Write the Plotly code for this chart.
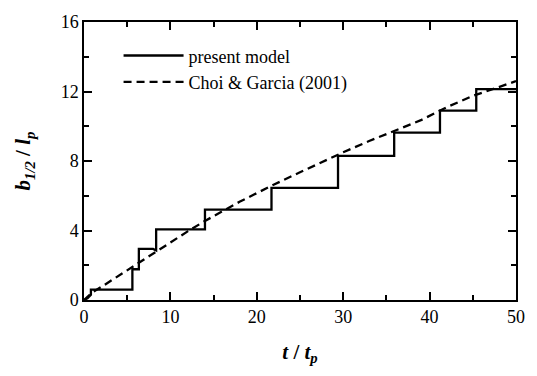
import plotly.graph_objects as go

# present model (step curve)
step_t = [0, 0.4, 0.8, 0.8, 5.6, 5.6, 6.35, 6.35, 8.0, 8.35, 8.35, 14.0, 14.0, 21.7, 21.7, 29.4, 29.4, 35.9, 35.9, 41.2, 41.2, 45.4, 45.4, 50]
step_b = [0, 0.1, 0.3, 0.6, 0.6, 1.77, 1.77, 2.94, 2.94, 2.85, 4.06, 4.06, 5.2, 5.2, 6.45, 6.45, 8.3, 8.3, 9.63, 9.63, 10.9, 10.9, 12.14, 12.14]

# Choi & Garcia (2001)
cg_t = [0, 1, 2, 4, 6, 8, 10, 12, 14, 16, 18, 20, 22, 25, 28, 30, 33, 36, 39, 42, 45, 48, 50]
cg_b = [0, 0.45, 0.75, 1.4, 2.0, 2.65, 3.3, 3.95, 4.55, 5.1, 5.65, 6.15, 6.65, 7.35, 8.05, 8.5, 9.15, 9.75, 10.35, 11.1, 11.75, 12.25, 12.6]

x_ticks = [0, 10, 20, 30, 40, 50]
y_ticks = [0, 4, 8, 12, 16]

FONT = "Liberation Serif"

fig = go.Figure()
fig.add_trace(go.Scatter(x=step_t, y=step_b, mode="lines", name="present model",
                         line=dict(color="black", width=2.3)))
fig.add_trace(go.Scatter(x=cg_t, y=cg_b, mode="lines", name="Choi &amp; Garcia (2001)",
                         line=dict(color="black", width=2.3, dash="8px,5px")))

axis_common = dict(showline=True, linecolor="black", linewidth=1.5, mirror="ticks",
                   ticks="inside", ticklen=8, tickwidth=1.5, tickcolor="black",
                   showgrid=False, zeroline=False,
                   tickfont=dict(family=FONT, size=18, color="black"))

fig.update_xaxes(range=[0, 50], tickvals=x_ticks,
                 minor=dict(dtick=5, ticks="inside", ticklen=5, tickwidth=1.5, tickcolor="black"),
                 title=dict(text="<b><i>t</i> / <i>t<sub>p</sub></i></b>",
                            font=dict(family=FONT, size=21, color="black"), standoff=18),
                 **axis_common)
fig.update_yaxes(range=[0, 16], tickvals=y_ticks,
                 minor=dict(dtick=2, ticks="inside", ticklen=5, tickwidth=1.5, tickcolor="black"),
                 title=dict(text="<b><i>b<sub>1/2</sub></i> / <i>l<sub>p</sub></i></b>",
                            font=dict(family=FONT, size=21, color="black"), standoff=24),
                 **axis_common)

fig.update_layout(
    width=537, height=376,
    margin=dict(l=84, r=18, t=14, b=76),
    plot_bgcolor="white", paper_bgcolor="white",
    font=dict(family=FONT, color="black"),
    legend=dict(x=0.08, y=0.945, xanchor="left", yanchor="top",
                bgcolor="rgba(0,0,0,0)", borderwidth=0,
                font=dict(family=FONT, size=18, color="black"),
                tracegroupgap=0, itemwidth=60),
    showlegend=True,
)

fig.write_html("out.html")
